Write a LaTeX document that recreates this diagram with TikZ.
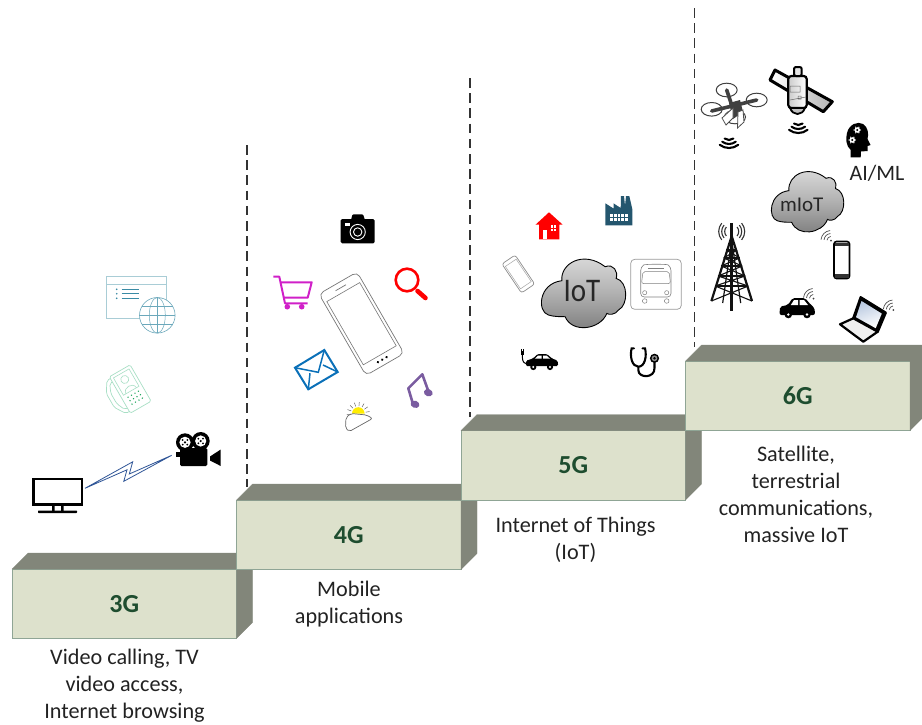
\documentclass[tikz,border=0pt]{standalone}
\usepackage{fontspec}
\usetikzlibrary{calc}
\setmainfont{Carlito}
\definecolor{stepface}{HTML}{DDE1CC}
\definecolor{stepedge}{HTML}{8FA595}
\definecolor{stepdark}{HTML}{82867A}
\definecolor{steptext}{HTML}{1E4D2F}
\definecolor{captiontext}{HTML}{222222}
\definecolor{webpale}{HTML}{A9CDD6}
\definecolor{webdark}{HTML}{3A8BA5}
\definecolor{callpale}{HTML}{A8DFC5}
\definecolor{calldark}{HTML}{22A860}
\definecolor{boltblue}{HTML}{2F5597}
\definecolor{cartpink}{HTML}{D020C8}
\definecolor{mailblue}{HTML}{0A70B8}
\definecolor{notepurple}{HTML}{7A5CA0}
\definecolor{factoryteal}{HTML}{24566E}
\definecolor{phonegray}{HTML}{777777}
\definecolor{towerink}{HTML}{111111}
\definecolor{screenblue}{HTML}{B9C9E0}
\tikzset{
  stepfront/.style={draw=stepedge,line width=.7pt,fill=stepface,anchor=north west,
    minimum width=224.5pt,minimum height=69.5pt,inner sep=0pt,outer sep=0pt,
    text=steptext,font=\bfseries\fontsize{26}{26}\selectfont},
  stepshade/.style={fill=stepdark,draw=stepdark,line width=.3pt},
  caption/.style={align=center,text=captiontext,inner sep=0pt,
    font=\fontsize{22.2}{27}\selectfont},
  divider/.style={draw=black!80,line width=1.2pt,dash pattern=on 9.5pt off 5.7pt},
  cloudfill/.style={draw=black,line width=.9pt,top color=black!12,bottom color=black!52,middle color=black!30},
  radiowaves/.pic={
    \foreach \r in {7,11,15}
      \draw[black,line width=2.1pt,line cap=round] (0,0) ++(232:\r pt) arc (232:308:\r pt);
  },
  wifimark/.pic={
    \fill[black!75] (0,0) circle (1pt);
    \foreach \r in {4,7,10}
      \draw[black!70,line width=.7pt] (0,0) ++(95:\r pt) arc (95:175:\r pt);
  },
}
\newcommand{\cloudoutline}{(-105,70) .. controls (-140,60) and (-135,-25) .. (-65,-33)
  .. controls (-70,-85) and (0,-125) .. (65,-75)
  .. controls (90,-85) and (105,-60) .. (98,-40)
  .. controls (135,-30) and (135,40) .. (105,55)
  .. controls (95,70) and (75,70) .. (70,65)
  .. controls (50,115) and (-35,125) .. (-55,75)
  .. controls (-70,75) and (-90,75) .. (-105,70) -- cycle}
\begin{document}
\begin{tikzpicture}[x=1pt,y=-1pt]
\useasboundingbox (0,0) rectangle (922,724);
\clip (0,0) rectangle (922,724);

% dividers
\coordinate (d4a) at (247,145); \coordinate (d4b) at (247,487);
\coordinate (d5a) at (470,78);  \coordinate (d5b) at (470,417);
\coordinate (d6a) at (694.5,8); \coordinate (d6b) at (694.5,347);
\draw[divider] (d4a) -- (d4b);
\draw[divider] (d5a) -- (d5b);
\draw[divider] (d6a) -- (d6b);

% steps
\node[stepfront] (g3) at (12,569) {3G};
\fill[stepshade] (g3.north west) -- ++(16,-16) -- ($(g3.north east)+(16,-16)$) -- ($(g3.south east)+(16,-16)$) -- (g3.south east) -- (g3.north east) -- cycle;
\node[stepfront] (g4) at (236.5,500) {4G};
\fill[stepshade] (g4.north west) -- ++(16,-16) -- ($(g4.north east)+(16,-16)$) -- ($(g4.south east)+(16,-16)$) -- (g4.south east) -- (g4.north east) -- cycle;
\node[stepfront] (g5) at (461,430.5) {5G};
\fill[stepshade] (g5.north west) -- ++(16,-16) -- ($(g5.north east)+(16,-16)$) -- ($(g5.south east)+(16,-16)$) -- (g5.south east) -- (g5.north east) -- cycle;
\node[stepfront] (g6) at (685.5,361) {6G};
\fill[stepshade] (g6.north west) -- ++(16,-16) -- ($(g6.north east)+(16,-16)$) -- ($(g6.south east)+(16,-16)$) -- (g6.south east) -- (g6.north east) -- cycle;

% captions
\node[caption] (c3) at (124.5,685.5) {Video calling, TV\\video access,\\Internet browsing};
\node[caption] (c4) at (349,604) {Mobile\\applications};
\node[caption] (c5) at (575.5,539.5) {Internet of Things\\(IoT)};
\node[caption] (c6) at (796,494) {Satellite,\\terrestrial\\communications,\\massive IoT};

% ---- 3G icons
% browser
\draw[webpale,line width=.9pt,fill=white] (106,276.7) rectangle (166,318.7);
\draw[webpale,line width=.9pt] (106,284) -- (166,284);
\foreach \yy in {289.3,293.7,298.3}{
  \fill[webdark] (116.7,\yy) circle (.9pt);
  \draw[webdark,line width=1pt] (121.7,\yy) -- (138.7,\yy);
}
\draw[webdark!75,line width=.6pt,fill=white] (157.3,315.3) circle (17.8pt);
\draw[webdark!75,line width=.5pt] (157.3,315.3) ellipse (8pt and 17.8pt);
\draw[webdark!75,line width=.5pt] (157.3,297.5) -- (157.3,333.1) (139.5,315.3) -- (175.1,315.3)
  (142,306) -- (172.6,306) (142,324.6) -- (172.6,324.6);
% video phone
\begin{scope}[shift={(128.5,390)},rotate=30]
  \draw[callpale,line width=.7pt,fill=white,rounded corners=1.5pt] (-10,-21) rectangle (14,21);
  \draw[callpale,line width=.6pt] (-7,-18) rectangle (11,2);
  \draw[callpale,line width=.6pt] (2,-11) circle (4pt);
  \draw[callpale,line width=.6pt] (-4,2) .. controls (-4,-5) and (8,-5) .. (8,2);
  \draw[callpale,line width=.7pt,rounded corners=2pt] (-10,-19) -- (-14,-19) -- (-21,-8) -- (-21,8) -- (-14,19) -- (-10,19) (-10,-15) -- (-13,-15) -- (-17,-6) -- (-17,6) -- (-13,15) -- (-10,15);
  \foreach \kx in {-4,0,4,8}\foreach \ky in {6,10,14}
    \fill[calldark] (\kx,\ky) circle (.8pt);
\end{scope}
% tv
\draw[black,line width=2.6pt] (33.5,479) rectangle (82,504.7);
\fill[black] (52,505) rectangle (54.5,511) (61,505) rectangle (63.5,511);
\fill[black,rounded corners=.6pt] (38,510.5) rectangle (77,513);
\coordinate (tvlink) at (85,488.3);
% camera
\fill[black] (185,442.3) circle (9pt) (200.7,441) circle (9pt);
\fill[black,rounded corners=1.5pt] (180,448) rectangle (207.3,466);
\fill[black] (175.5,451.5) rectangle (181,457);
\fill[black] (210,456.5) -- (220.7,449.5) -- (220.7,466) -- (210,460.5) -- cycle;
\foreach \cx/\cy in {185/442.3,200.7/441}{
  \fill[white] (\cx,\cy) circle (5.6pt);
  \fill[black] (\cx,\cy) circle (1.2pt);
  \foreach \aa in {45,135,225,315}
    \fill[black] (\cx,\cy) ++(\aa:3.3pt) circle (1pt);
}
\coordinate (camlink) at (171.7,455.3);
% bolt connector
\draw[boltblue,line width=.8pt,line join=miter,fill=white]
  (tvlink) -- (132.7,461.8) -- (129.3,474) -- (camlink) -- (123.8,481.3) -- (127,469.8) -- cycle;

% ---- 4G icons
% camera
\fill[black,rounded corners=1.5pt] (340.7,219) rectangle (374.7,243.3);
\fill[black,rounded corners=1pt] (351,220) -- (352.5,214.3) -- (363,214.3) -- (365,220) -- cycle;
\fill[white] (344.5,222.8) rectangle (349.5,226);
\draw[white,line width=.9pt] (357.7,232) circle (7.6pt);
\draw[white,line width=.9pt] (357.7,232) circle (4.2pt);
% smartphone
\begin{scope}[shift={(361.5,323.7)},rotate=30]
  \draw[phonegray,line width=.7pt,fill=white,rounded corners=5pt] (-22,-47) rectangle (22,47);
  \draw[phonegray,line width=.6pt] (-19,-36.5) rectangle (19,36.5);
  \draw[phonegray,line width=.7pt] (-6,-41.5) -- (6,-41.5);
  \foreach \dx in {-5,0,5} \fill[black] (\dx,41.5) circle (1.3pt);
\end{scope}
% cart
\draw[cartpink,line width=2pt,line join=round] (273.3,276.7) -- (279.3,276.7) -- (285,303.3) -- (307.7,303.3);
\draw[cartpink,line width=2pt,line join=round] (280.7,282.3) -- (311.7,282.3) -- (307.7,297.7) -- (283.5,297.7);
\fill[cartpink] (287.3,306.7) circle (2.8pt) (301.7,306.7) circle (2.8pt);
% magnifier
\draw[red,line width=2.6pt] (407,280) circle (11.3pt);
\draw[red,line width=4.6pt,line cap=round] (417.5,291) -- (425.5,298);
% envelope
\draw[mailblue,line width=2pt,line join=miter] (295,367.7) -- (324.3,350) -- (337.7,372) -- (308.3,389.3) -- cycle;
\draw[mailblue,line width=1.5pt] (295,367.7) -- (318.3,372.3) -- (324.3,350);
\draw[mailblue,line width=1.5pt] (310,373.2) -- (308.3,389.3) (323,365) -- (337.7,372);
% music
\draw[notepurple,line width=2.6pt,line join=round] (412.7,403) -- (408.3,388.3) -- (422.3,374.3) -- (428.3,391);
\fill[notepurple,rotate around={-20:(415,404.3)}] (415,404.3) ellipse (4.5pt and 3.6pt);
\fill[notepurple,rotate around={-20:(428.3,392.7)}] (428.3,392.7) ellipse (4.5pt and 3.6pt);
% weather
\foreach \aa in {10,35,60,85,110,135,160,185}
  \draw[black!60,line width=.5pt] (358.3,413.5) ++(\aa:7.5pt) -- ++(\aa:4pt);
\fill[yellow!95!orange] (352,413.5) arc (180:0:6.3pt) -- cycle;
\draw[black!60,line width=.7pt,fill=white,rounded corners=2pt] (349.3,431.5) -- (345.5,428) -- (346,417.5) -- (351,413.5) -- (366.7,415) -- (372.5,418.5) -- cycle;

% ---- 5G icons
% house
\fill[red] (549,212.3) -- (562.5,224.5) -- (559.3,224.5) -- (559.3,239.3) -- (539,239.3) -- (539,224.5) -- (535.7,224.5) -- cycle;
\fill[white] (543.3,229.5) rectangle (547.3,239.3);
\fill[white] (550.7,225) rectangle (555.7,230.7);
\draw[red,line width=.5pt] (553.2,225) -- (553.2,230.7) (550.7,227.8) -- (555.7,227.8);
% factory
\fill[factoryteal] (605.3,203.3) -- (613.5,208.5) -- (613.5,203.3) -- (620.7,208) -- (621,196) -- (624,196) -- (625,206) -- (626,196) -- (629.3,196) -- (632.3,209) -- (632.3,225.3) -- (605.3,225.3) -- cycle;
\fill[white] (610,214) rectangle (627.7,220.7);
\draw[factoryteal,line width=.6pt] (613.5,214) -- (613.5,220.7) (617,214) -- (617,220.7) (620.5,214) -- (620.5,220.7) (624,214) -- (624,220.7) (610,217.3) -- (627.7,217.3);
% small phone
\begin{scope}[shift={(518.3,274)},rotate=34]
  \draw[black!45,line width=.7pt,fill=white,rounded corners=2.5pt] (-8,-17.5) rectangle (8,17.5);
  \draw[black!35,line width=.5pt] (-6.5,-13.5) rectangle (6.5,13.5);
\end{scope}
% IoT cloud
\begin{scope}[shift={(583.5,291.7)},xscale=.3333,yscale=.3333]
  \draw[cloudfill] \cloudoutline;
\end{scope}
\node[inner sep=0pt,text=black!85,xscale=.88,font=\fontsize{33}{33}\selectfont] (iot) at (582,291) {IoT};
% bus
\draw[black!40,line width=.7pt,rounded corners=4pt] (630.7,259.3) rectangle (681.3,309.3);
\draw[black!50,line width=.6pt,rounded corners=3.5pt] (640.7,267) .. controls (645,264) and (667,264) .. (671,267) -- (671,297) -- (640.7,297) -- cycle;
\draw[black!50,line width=.5pt,rounded corners=2pt] (641.5,283.5) -- (643,271.5) -- (669,271.5) -- (670.5,283.5) -- cycle;
\draw[black!50,line width=.5pt] (648,268.5) -- (664,268.5);
\foreach \wx in {644.7,666.7}{
  \draw[black!50,line width=.5pt,fill=white] (\wx,301) circle (2.3pt);
  \draw[black!50,line width=.5pt,fill=white] (\wx,292.7) circle (2.1pt);
}
% electric car
\fill[black,rounded corners=1.5pt] (525.7,366) -- (526,360.7) -- (533,358.5) -- (537.5,354) -- (547,354) -- (552,358.5) -- (557.5,360.5) -- (558.3,366) -- cycle;
\fill[white] (538,355.5) -- (541.5,355.5) -- (541.5,358.7) -- (534.8,358.7) -- cycle (543,355.5) -- (546.5,355.5) -- (550,358.7) -- (543,358.7) -- cycle;
\foreach \wx in {533.3,550}{
  \fill[black] (\wx,367) circle (3.1pt);
  \fill[white] (\wx,367) circle (1.1pt);
}
\draw[black,line width=1pt] (522.3,351) -- (522.3,356) .. controls (522.3,362) and (524,363.5) .. (527,363.5);
\fill[black] (520.5,351.5) rectangle (524.1,354.5);
\draw[black,line width=.6pt] (521.3,349) -- (521.3,351.5) (523.3,349) -- (523.3,351.5);
% stethoscope
\draw[black,line width=2.1pt,line cap=round] (634,348.3) -- (631.7,348.3) .. controls (629.5,356) and (632,366.7) .. (638.3,366.7) .. controls (645,366.7) and (647,356) .. (645,348.3) -- (642.5,348.3);
\draw[black,line width=2.1pt] (638.3,366.7) -- (638.3,370) .. controls (638.3,378.5) and (655,378.5) .. (654.5,368) -- (654.5,362);
\fill[black] (654.5,358.3) circle (4.6pt);
\fill[black!45] (654.5,358.3) circle (2.9pt);
\fill[black] (654.5,358.3) circle (1.4pt);

% ---- 6G icons
% drone
\foreach \rx/\ry in {726.7/90,756.7/100,711.7/109.3,735/117}
  \draw[black!75,line width=1pt,fill=white] (\rx,\ry) ellipse (10.5pt and 6.8pt);
\draw[black!75,line width=3.6pt,line cap=round] (711.7,111) -- (756.7,100) (726.7,90) -- (734,112);
\fill[black!75] (729,103) -- (740,100) -- (743,112) -- (733,119) -- cycle;
\draw[black!70,line width=.8pt,fill=white] (733,108) -- (722,118) -- (726,125) -- (733,118) -- cycle;
\draw[black!70,line width=.8pt,fill=white] (738,112) -- (737.5,128) -- (744,122) -- (743,110) -- cycle;
\pic at (729,133) {radiowaves};
% satellite
\draw[black,line width=3pt,line join=round,left color=white,right color=black!30] (775,70) -- (770,80) -- (823.3,111.7) -- (832.3,101.7) -- cycle;
\draw[black,line width=2.2pt,left color=black!20,right color=white,rounded corners=3pt] (788.3,76) rectangle (806.7,108);
\draw[black,line width=2pt,fill=black!10,rounded corners=2pt] (794,67) rectangle (801.7,76);
\draw[black,line width=1.8pt,fill=black!25] (790,108) .. controls (793,116) and (802,116) .. (805,108) -- cycle;
\draw[black!60,line width=.5pt] (790,86) rectangle (800,92) (790,100) -- (806,97) (798,96) rectangle (801,99);
\pic at (798.3,118) {radiowaves};
% AI head
\fill[black] (850.7,157.3) -- (850.7,150) .. controls (846,146) and (845.5,139) .. (847,133) .. controls (849,124) and (858,121) .. (863,124) .. controls (868,127) and (869,134) .. (867.5,139) -- (870.5,145) -- (867.5,146) -- (867.5,151) -- (861,151.5) -- (860.7,157.3) -- cycle;
\foreach \gx/\gy in {857.3/130,852.3/140}{
  \fill[white] (\gx,\gy) circle (2.8pt);
  \foreach \aa in {0,60,...,300}
    \fill[white] (\gx,\gy) ++(\aa:3.2pt) circle (.7pt);
  \fill[black] (\gx,\gy) circle (1.1pt);
}
\node[inner sep=0pt,text=captiontext,font=\fontsize{22}{22}\selectfont] (aiml) at (877,173.5) {AI/ML};
% mIoT cloud
\begin{scope}[shift={(807.5,200.3)},xscale=.2863,yscale=.2933]
  \draw[cloudfill] \cloudoutline;
\end{scope}
\node[inner sep=0pt,text=black!85,font=\fontsize{21}{21}\selectfont] (miot) at (801.7,205) {mIoT};
% tower
\foreach \sgn in {-1,1}{
  \draw[towerink,line width=2.2pt,line join=round] (731.7,236) -- ({731.7+\sgn*20.3},301);
  \draw[towerink,line width=1.2pt] (731.7,240) -- ({731.7+\sgn*9},303);
  \foreach \rr in {7,10,13}
    \draw[black!80,line width=1.1pt] (731.7,231.5) ++({90-\sgn*90-40}:\rr pt) arc ({90-\sgn*90-40}:{90-\sgn*90+40}:\rr pt);
}
\draw[towerink,line width=2.6pt] (731.7,223) -- (731.7,311);
\foreach \yy/\hw in {244/3.5,250/5.5,258/8,266/10.5,276/13.5,286/16.5}
  \draw[towerink,line width=1.2pt] ({731.7-\hw},\yy) -- ({731.7+\hw},\yy);
\foreach \ya/\yb/\ha/\hb in {250/258/5.5/8,258/266/8/10.5,266/276/10.5/13.5,276/286/13.5/16.5,286/301/16.5/20.3}{
  \draw[towerink,line width=1.1pt] ({731.7-\ha},\ya) -- ({731.7+\hb},\yb) ({731.7+\ha},\ya) -- ({731.7-\hb},\yb);
}
% 6G phone
\draw[black,line width=1.6pt,fill=white,rounded corners=2.5pt] (834,241.5) rectangle (849.5,278.5);
\fill[black!80] (834.5,243) rectangle (849,246);
\fill[black!80] (834.5,274) rectangle (849,278);
\pic at (831,240.5) {wifimark};
% 6G car
\fill[black,rounded corners=2pt] (779.5,315) -- (780,306.5) -- (788,305) -- (792.5,298) -- (805,298) -- (811,305) -- (814.5,307.5) -- (815,315) -- cycle;
\fill[white] (794,300) -- (798,300) -- (798,305) -- (790.8,305) -- cycle (799.5,300) -- (804,300) -- (808,305) -- (799.5,305) -- cycle;
\foreach \wx in {788.3,807}{
  \fill[black] (\wx,314.5) circle (3.8pt);
  \fill[white] (\wx,314.5) circle (1.3pt);
}
\pic at (813.5,298.5) {wifimark};
% laptop
\draw[black,line width=2.4pt,line join=round,fill=black] (860.7,297.3) -- (885.7,312.7) -- (877.7,331.7) -- (853.3,318.3) -- cycle;
\shade[top color=screenblue,bottom color=white,shading angle=20] (861.5,301) -- (881.8,313.6) -- (875.7,328.2) -- (856,317.2) -- cycle;
\draw[black,line width=2.2pt,line join=round,fill=black!6] (853.3,318.3) -- (877.7,331.7) -- (863.3,341.7) -- (840,324.3) -- cycle;
\pic at (893.3,310) {wifimark};
\end{tikzpicture}
\end{document}
